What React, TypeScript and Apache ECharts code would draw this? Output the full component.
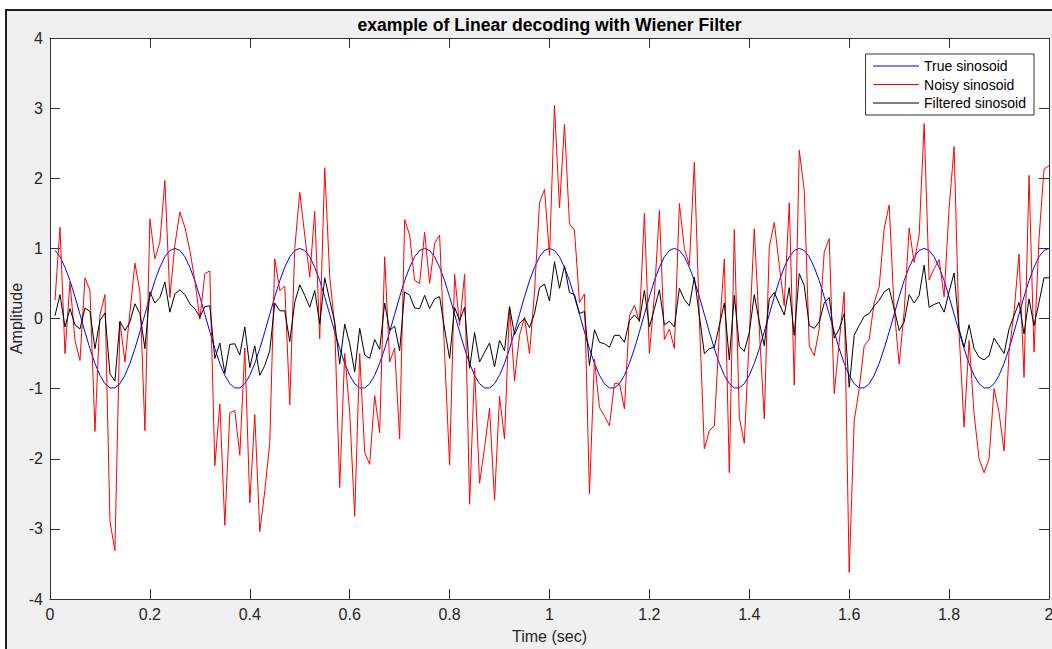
import React, { useEffect, useRef } from "react";
import * as echarts from "echarts";

const titleText = "example of Linear decoding with Wiener Filter";
const xName = "Time (sec)";
const yName = "Amplitude";
const seriesNames = ["True sinosoid", "Noisy sinosoid", "Filtered sinosoid"];
const seriesColors = ["#0000ff", "#ff0000", "#000000"];
const dt = 0.01; // sample spacing (s); samples at k*dt, k = 1..200

const trueSin = [
  0.97, 0.88, 0.73, 0.54, 0.31, 0.06, -0.19, -0.43, -0.64, -0.81, -0.93, -0.99, -0.99, -0.93, -0.81, -0.64, -0.43, -0.19, 0.06, 0.31, 0.54, 0.73, 0.88, 0.97, 1.0,
  0.97, 0.88, 0.73, 0.54, 0.31, 0.06, -0.19, -0.43, -0.64, -0.81, -0.93, -0.99, -0.99, -0.93, -0.81, -0.64, -0.43, -0.19, 0.06, 0.31, 0.54, 0.73, 0.88, 0.97, 1.0,
  0.97, 0.88, 0.73, 0.54, 0.31, 0.06, -0.19, -0.43, -0.64, -0.81, -0.93, -0.99, -0.99, -0.93, -0.81, -0.64, -0.43, -0.19, 0.06, 0.31, 0.54, 0.73, 0.88, 0.97, 1.0,
  0.97, 0.88, 0.73, 0.54, 0.31, 0.06, -0.19, -0.43, -0.64, -0.81, -0.93, -0.99, -0.99, -0.93, -0.81, -0.64, -0.43, -0.19, 0.06, 0.31, 0.54, 0.73, 0.88, 0.97, 1.0,
  0.97, 0.88, 0.73, 0.54, 0.31, 0.06, -0.19, -0.43, -0.64, -0.81, -0.93, -0.99, -0.99, -0.93, -0.81, -0.64, -0.43, -0.19, 0.06, 0.31, 0.54, 0.73, 0.88, 0.97, 1.0,
  0.97, 0.88, 0.73, 0.54, 0.31, 0.06, -0.19, -0.43, -0.64, -0.81, -0.93, -0.99, -0.99, -0.93, -0.81, -0.64, -0.43, -0.19, 0.06, 0.31, 0.54, 0.73, 0.88, 0.97, 1.0,
  0.97, 0.88, 0.73, 0.54, 0.31, 0.06, -0.19, -0.43, -0.64, -0.81, -0.93, -0.99, -0.99, -0.93, -0.81, -0.64, -0.43, -0.19, 0.06, 0.31, 0.54, 0.73, 0.88, 0.97, 1.0,
  0.97, 0.88, 0.73, 0.54, 0.31, 0.06, -0.19, -0.43, -0.64, -0.81, -0.93, -0.99, -0.99, -0.93, -0.81, -0.64, -0.43, -0.19, 0.06, 0.31, 0.54, 0.73, 0.88, 0.97, 1.0,
];

const noisySin = [
  0.26, 1.3, -0.5, 0.52, -0.31, -0.6, 0.58, 0.4, -1.61, 0.05, 0.34, -2.89, -3.31, -0.05, -0.62, 0.09, 0.79, 0.38, -1.6, 1.42, 0.85, 1.09, 1.97, 0.3, 1.05,
  1.52, 1.3, 0.97, 0.54, -0.01, 0.64, 0.68, -2.1, -1.22, -2.95, -1.35, -1.31, -1.95, -0.42, -2.63, -1.37, -3.04, -2.46, -1.77, 0.85, 0.4, 0.46, -1.23, 1.0, 1.8,
  1.19, 0.59, 1.53, -0.29, 2.15, 0.6, -0.1, -2.41, -0.5, -1.34, -2.82, -0.5, -1.91, -2.08, -1.1, -1.63, 0.88, -0.62, -0.42, -1.72, 1.41, 1.19, 0.54, 0.5, 1.23,
  0.5, 1.07, 1.19, -0.5, -2.09, 0.63, -0.1, 0.63, -2.65, -0.71, -2.35, -1.84, -1.28, -2.59, -1.11, -1.72, 0.17, -0.89, -0.24, 0.02, -0.5, 0.38, 1.65, 1.84, 0.9,
  3.04, 1.58, 2.77, 1.35, 1.26, 0.23, 0.35, -2.5, -0.58, -1.27, -1.39, -1.53, -0.93, -0.92, -1.29, 0.04, 0.19, -0.05, 1.5, -0.5, 0.33, 1.54, -0.3, -0.15, -0.43,
  1.64, 1.0, 0.76, 2.23, 0.0, -1.86, -1.6, -1.53, -0.2, 0.85, -2.2, 1.27, -1.41, -1.78, -0.24, 1.28, -0.15, -1.43, 1.02, 1.37, 0.76, 0.18, 1.65, -0.95, 2.4,
  1.83, -0.39, -0.53, -0.15, 0.95, 1.14, -1.07, -0.34, 0.38, -3.62, -1.46, -1.0, -0.39, -0.3, 0.23, 0.45, 1.28, 1.62, 0.14, -0.65, 0.09, 1.29, 0.8, 1.19, 2.78,
  0.55, 0.71, 0.84, 0.31, 1.57, 2.45, -0.2, -1.55, -0.31, -1.36, -2.0, -2.2, -2.0, -1.0, -1.34, -1.89, -0.48, 0.09, 0.92, -0.84, 2.04, -0.48, 1.14, 2.13, 2.18,
];

const filteredSin = [
  0.04, 0.34, -0.12, 0.14, -0.09, -0.15, 0.15, 0.1, -0.43, -0.03, 0.08, -0.79, -0.89, -0.04, -0.17, -0.05, 0.21, 0.07, -0.43, 0.38, 0.22, 0.3, 0.52, 0.09, 0.35,
  0.41, 0.34, 0.21, 0.14, 0.02, 0.17, 0.18, -0.57, -0.35, -0.78, -0.37, -0.36, -0.52, -0.12, -0.7, -0.39, -0.81, -0.67, -0.46, 0.22, 0.11, 0.11, -0.33, 0.23, 0.48,
  0.33, 0.16, 0.4, -0.08, 0.58, 0.26, -0.05, -0.65, -0.08, -0.36, -0.76, -0.14, -0.52, -0.57, -0.3, -0.44, 0.22, -0.17, -0.11, -0.46, 0.38, 0.33, 0.15, 0.14, 0.33,
  0.14, 0.28, 0.31, -0.15, -0.57, 0.16, -0.03, 0.16, -0.71, -0.2, -0.62, -0.48, -0.35, -0.69, -0.31, -0.46, 0.17, -0.23, -0.07, 0.0, -0.13, 0.07, 0.44, 0.49, 0.25,
  0.81, 0.43, 0.75, 0.37, 0.34, 0.07, 0.1, -0.67, -0.16, -0.34, -0.36, -0.41, -0.24, -0.24, -0.34, -0.03, 0.05, -0.03, 0.4, -0.12, 0.14, 0.41, -0.09, -0.04, -0.12,
  0.43, 0.27, 0.18, 0.59, 0.04, -0.5, -0.43, -0.41, -0.1, 0.22, -0.59, 0.33, -0.4, -0.47, -0.2, 0.34, -0.05, -0.39, 0.28, 0.37, 0.21, 0.05, 0.44, -0.24, 0.64,
  0.47, -0.1, -0.14, -0.05, 0.22, 0.3, -0.28, -0.15, 0.07, -0.98, -0.24, -0.1, 0.03, 0.07, 0.18, 0.26, 0.38, 0.43, 0.14, -0.17, -0.05, 0.34, 0.22, 0.33, 0.76,
  0.16, 0.2, 0.23, 0.09, 0.38, 0.65, -0.15, -0.41, -0.09, -0.43, -0.55, -0.59, -0.53, -0.28, -0.39, -0.5, -0.15, 0.04, 0.23, -0.22, 0.28, -0.1, 0.23, 0.58, 0.58,
];

const FONT = "'Liberation Sans', Arial, Helvetica, sans-serif";
const AXIS_COLOR = "#333333";
const TEXT_COLOR = "#262626";

export default function App() {
  const ref = useRef<HTMLDivElement>(null);

  useEffect(() => {
    if (!ref.current) return;
    const chart = echarts.init(ref.current, undefined, { renderer: "svg" });
    const toPairs = (arr: number[]) => arr.map((v, i) => [Number(((i + 1) * dt).toFixed(2)), v]);
    const allData = [trueSin, noisySin, filteredSin];

    const baseX = {
      type: "value" as const,
      min: 0,
      max: 2,
      interval: 0.2,
      splitLine: { show: false },
      axisLine: { show: true, onZero: false, lineStyle: { color: AXIS_COLOR, width: 1 } },
      axisTick: { show: true, inside: true, length: 10, lineStyle: { color: AXIS_COLOR, width: 1 } },
    };
    const baseY = {
      type: "value" as const,
      min: -4,
      max: 4,
      interval: 1,
      splitLine: { show: false },
      axisLine: { show: true, onZero: false, lineStyle: { color: AXIS_COLOR, width: 1 } },
      axisTick: { show: true, inside: true, length: 10, lineStyle: { color: AXIS_COLOR, width: 1 } },
    };

    chart.setOption({
      animation: false,
      grid: {
        left: 50,
        top: 38,
        width: 999,
        height: 561,
        show: true,
        backgroundColor: "#ffffff",
        borderWidth: 0,
        containLabel: false,
        outerBoundsMode: "none",
      },
      graphic: [
        {
          type: "text",
          x: 549.5,
          y: 25,
          style: {
            text: titleText,
            align: "center",
            verticalAlign: "middle",
            fontSize: 17.6,
            fontWeight: "bold",
            fontFamily: FONT,
            fill: "#000000",
          },
        },
      ],
      legend: {
        data: seriesNames,
        orient: "vertical",
        right: 18,
        top: 54,
        backgroundColor: "#ffffff",
        borderColor: AXIS_COLOR,
        borderWidth: 1,
        borderRadius: 0,
        padding: [5, 8, 5, 7],
        itemWidth: 46,
        itemHeight: 14,
        itemGap: 4.5,
        itemStyle: { color: "rgba(0,0,0,0)", borderColor: "rgba(0,0,0,0)", borderWidth: 0, opacity: 0 },
        lineStyle: { width: 1 },
        textStyle: { fontSize: 14, fontFamily: FONT, color: "#000000", padding: [0, 0, 0, 0] },
      },
      xAxis: [
        {
          ...baseX,
          position: "bottom",
          name: xName,
          nameLocation: "middle",
          nameGap: 29,
          nameMoveOverlap: false,
          nameTextStyle: { fontSize: 16, fontFamily: FONT, color: TEXT_COLOR },
          axisLabel: { show: true, fontSize: 16, fontFamily: FONT, color: TEXT_COLOR, margin: 7 },
        },
        {
          ...baseX,
          position: "top",
          axisLabel: { show: false },
        },
      ],
      yAxis: [
        {
          ...baseY,
          position: "left",
          name: yName,
          nameLocation: "middle",
          nameGap: 26,
          nameMoveOverlap: false,
          nameTextStyle: { fontSize: 16, fontFamily: FONT, color: TEXT_COLOR },
          axisLabel: { show: true, fontSize: 16, fontFamily: FONT, color: TEXT_COLOR, margin: 7 },
        },
        {
          ...baseY,
          position: "right",
          axisLabel: { show: false },
        },
      ],
      series: seriesNames.map((name, i) => ({
        name,
        type: "line",
        xAxisIndex: 0,
        yAxisIndex: 0,
        data: toPairs(allData[i]),
        symbol: "none",
        showSymbol: false,
        lineStyle: { color: seriesColors[i], width: 1 },
        itemStyle: { color: seriesColors[i] },
        z: 2 + i,
      })),
    });

    return () => chart.dispose();
  }, []);

  return (
    <div
      style={{
        position: "fixed",
        left: 0,
        top: 0,
        width: 1052,
        height: 649,
        background: "#ffffff",
        overflow: "hidden",
      }}
    >
      <div
        style={{
          position: "absolute",
          left: 5,
          top: 9,
          width: 1100,
          height: 700,
          background: "#f0f0f0",
          borderLeft: "2px solid #1e1e1e",
          borderTop: "2px solid #1e1e1e",
        }}
      />
      <div ref={ref} style={{ position: "absolute", left: 0, top: 0, width: 1052, height: 649 }} />
    </div>
  );
}
